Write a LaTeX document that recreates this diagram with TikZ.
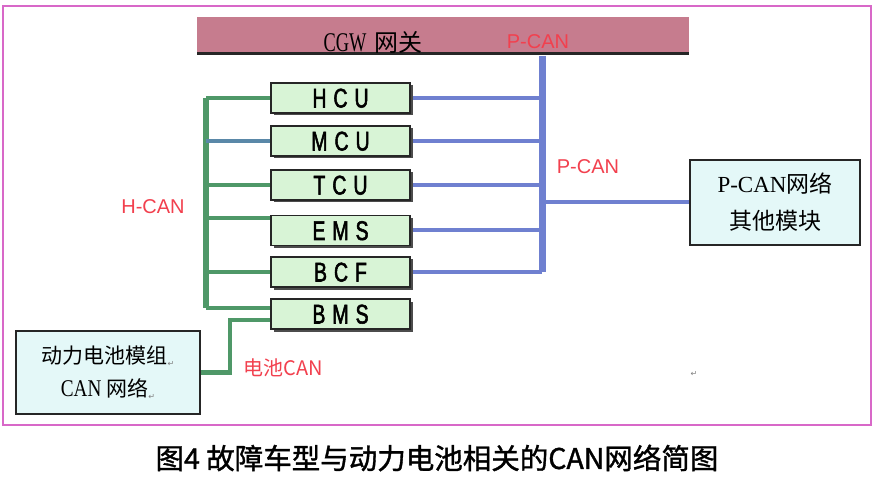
\documentclass[tikz,border=0pt]{standalone}
\usepackage{fontspec}
\usetikzlibrary{shadows}
\setmainfont{Liberation Serif}
\newfontfamily\cjk{Noto Sans CJK SC}
\newfontfamily\cjkb[FakeBold=1.3]{Noto Sans CJK SC}
\newfontfamily\tnr{Liberation Serif}
\newfontfamily\arial{Liberation Sans}
\newfontfamily\modf[FakeStretch=0.72, FakeBold=2]{Liberation Sans}
\newfontfamily\dv{DejaVu Sans}
\pgfdeclarelayer{bg}\pgfdeclarelayer{paper}\pgfsetlayers{paper,bg,main}
\definecolor{framec}{HTML}{D868C8}
\definecolor{cgwfill}{HTML}{C67C8E}
\definecolor{pblue}{HTML}{6F80D0}
\definecolor{hgreen}{HTML}{4F9868}
\definecolor{mcul}{HTML}{5A88A8}
\definecolor{modfill}{HTML}{D8F4D6}
\definecolor{boxfill}{HTML}{E4F8F8}
\definecolor{redt}{HTML}{F2404E}
\newcommand{\pmark}{\raisebox{-3pt}{\dv\fontsize{8}{8}\selectfont\color{gray}↵}}
\begin{document}
\begin{tikzpicture}[x=1pt,y=-1pt,
  modbox/.style={draw=black!85, line width=1.6pt, fill=modfill, minimum width=139pt,
    minimum height=30pt, inner sep=0pt, text height=19pt, text depth=0pt,
    font=\modf\fontsize{27}{27}\selectfont,
    drop shadow={shadow xshift=2.5pt, shadow yshift=-2.5pt, fill=black!70, opacity=1}},
  cbox/.style={draw=black!85, line width=2.4pt, fill=boxfill, inner sep=0pt, align=center},
  redlbl/.style={text=redt, inner sep=0pt, font=\arial\fontsize{20}{20}\selectfont},
  pbus/.style={draw=pblue, line width=7pt},
  pline/.style={draw=pblue, line width=4pt},
  gbus/.style={draw=hgreen, line width=6pt},
  gline/.style={draw=hgreen, line width=4.5pt}]
\useasboundingbox (0,0) rectangle (873,481);
\begin{pgfonlayer}{paper}
\fill[white] (0,0) rectangle (873,481);
\end{pgfonlayer}
\draw[framec, line width=1.5pt] (3,6) rectangle (871,425);

% gateway bar
\node[fill=cgwfill, minimum width=492pt, minimum height=38pt, inner sep=0pt, anchor=north west] (cgw) at (197,17) {};
\draw[line width=3pt, black!85] ([yshift=1.5pt]cgw.south west) -- ([yshift=1.5pt]cgw.south east);
\node[inner sep=0pt] (cgwt) at (373,42) {\scalebox{0.68}[1]{\tnr\fontsize{27}{27}\selectfont CGW}\hspace{8pt}{\cjk\fontsize{24}{24}\selectfont 网关}};
\node[redlbl] (pc1) at (538,42) {P-CAN};

% modules
\node[modbox] (hcu) at (340.5,98) {H\hspace{7pt}C\hspace{7pt}U};
\node[modbox] (mcu) at (340.5,141) {M\hspace{7pt}C\hspace{7pt}U};
\node[modbox] (tcu) at (340.5,185) {T\hspace{7pt}C\hspace{7pt}U};
\node[modbox] (ems) at (340.5,230.5) {E\hspace{7pt}M\hspace{7pt}S};
\node[modbox] (bcf) at (340.5,272) {B\hspace{7pt}C\hspace{7pt}F};
\node[modbox] (bms) at (340.5,314) {B\hspace{7pt}M\hspace{7pt}S};

% other boxes
\node[cbox, minimum width=170pt, minimum height=85pt, font=\fontsize{23}{37}\selectfont] (pbox) at (775,202.5)
  {{\tnr P-CAN}{\cjk 网络}\\{\cjk 其他模块}};
\node[cbox, minimum width=184pt, minimum height=83pt, font=\fontsize{21}{33}\selectfont] (batt) at (108,372.5)
  {{\cjk 动力电池模组}\pmark\\{\tnr\fontsize{24}{33}\selectfont\scalebox{0.8}[1]{CAN}}\hspace{5pt}{\cjk 网络}\pmark};

% labels
\node[redlbl] (pc2) at (588,167) {P-CAN};
\node[redlbl] (hc) at (153,207) {H-CAN};
\node[redlbl, font=\cjk\fontsize{20}{20}\selectfont] (bc) at (283,368) {电池CAN};
\node[inner sep=0pt] (pm) at (694,374) {\pmark};

% connectors
\coordinate (bt) at (542,56);
\coordinate (bb) at (542,272);
\coordinate (gb) at (206,308);
\begin{pgfonlayer}{bg}
\draw[pbus] (bt) -- (bb);
\draw[pline] (hcu.east) -- (hcu.east -| bt);
\draw[pline] (mcu.east) -- (mcu.east -| bt);
\draw[pline] (tcu.east) -- (tcu.east -| bt);
\draw[pline] (ems.east) -- (ems.east -| bt);
\draw[pline] (bcf.east) -- (bb);
\draw[pline] (bt |- pbox.west) -- (pbox.west);
\draw[gbus] (hcu.west -| gb) -- (gb);
\draw[gline] (hcu.west) -- (hcu.west -| gb);
\draw[gline, draw=mcul] (mcu.west) -- (mcu.west -| gb);
\draw[gline] (tcu.west) -- (tcu.west -| gb);
\draw[gline] ([yshift=12.5pt]ems.west) -- ([yshift=12.5pt]ems.west -| gb);
\draw[gline] (bcf.west) -- (bcf.west -| gb);
\draw[gline] ([yshift=6pt]bms.west) -- (gb);
\draw[gline] (batt.east) -| ([xshift=-40pt,yshift=-6pt]bms.west) -- ([yshift=-6pt]bms.west);
\end{pgfonlayer}

% caption
\node[inner sep=0pt] (cap) at (437,458) {\cjkb\fontsize{28.5}{28.5}\selectfont 图4 故障车型与动力电池相关的CAN网络简图};
\end{tikzpicture}
\end{document}
